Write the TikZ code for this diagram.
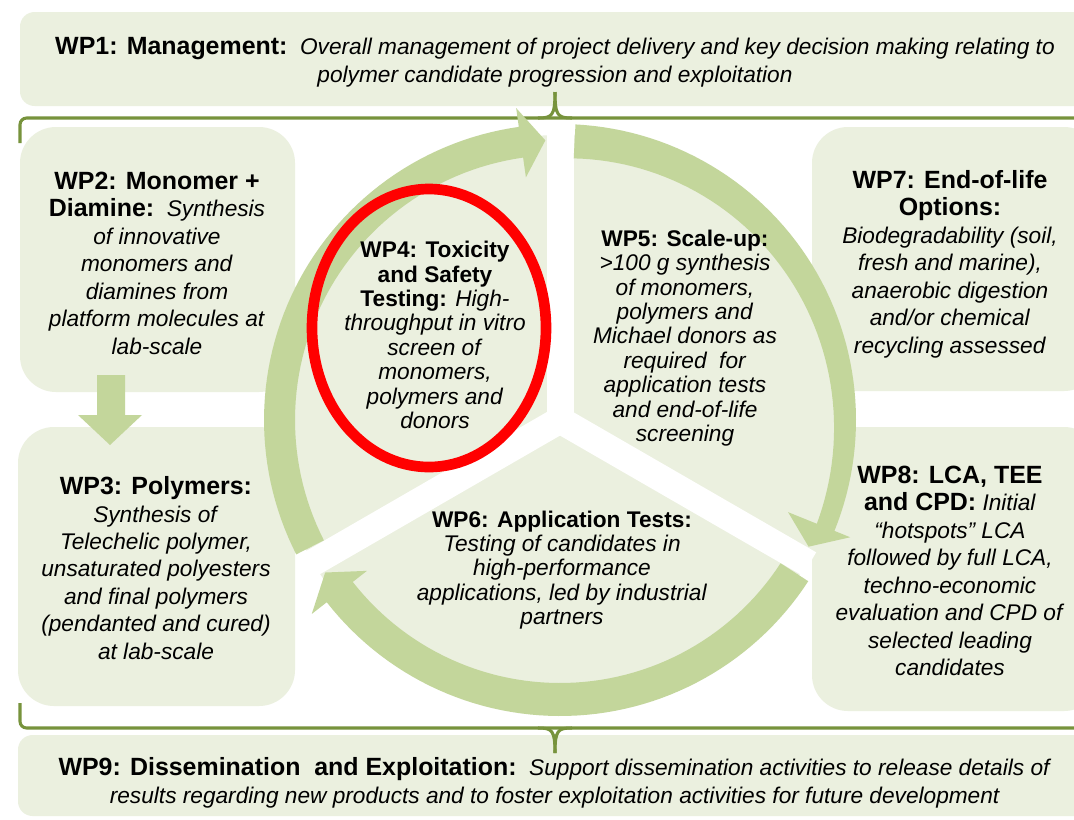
\documentclass[tikz,border=0pt]{standalone}
\usepackage{fontspec}
\setmainfont{Liberation Sans}
\definecolor{boxfill}{HTML}{EBF0DF}
\definecolor{ringgreen}{HTML}{C3D69B}
\definecolor{bracegreen}{HTML}{77933C}
\definecolor{markred}{HTML}{FF0000}
% larger bold headings used in the outer panels
\newcommand\wphead[1]{{\fontsize{18.7}{20}\selectfont\bfseries #1}}
\begin{document}
\begin{tikzpicture}[x=0.75pt, y=-0.75pt,
  panel/.style={fill=boxfill},
  ringarrow/.style={fill=ringgreen},
  bracketline/.style={draw=bracegreen, line width=2.3pt},
  gapband/.style={draw=white, line width=20.25pt},
  sidetxt/.style={align=center, inner sep=0pt, font=\fontsize{17}{20.6}\selectfont},
  midtxt/.style={align=center, inner sep=0pt, font=\fontsize{17}{18.3}\selectfont},
  wptxt/.style={align=center, inner sep=0pt, font=\fontsize{17}{21}\selectfont}]

\fill[white] (0,0) rectangle (1074,819);
\useasboundingbox (0,0) rectangle (1074,819);

% header and footer panels
\fill[panel, rounded corners=11pt] (20,12) rectangle (1095,106);
\fill[panel, rounded corners=11pt] (18,735) rectangle (1095,816);

% side panels
\fill[panel, rounded corners=27pt] (20,127) rectangle (295,392);
\fill[panel, rounded corners=27pt] (18,427) rectangle (295,706);
\fill[panel, rounded corners=27pt] (812,127) rectangle (1100,391);
\fill[panel, rounded corners=27pt] (812,427) rectangle (1100,711);

% brackets linking WP1 and WP9 to the work packages
\draw[bracketline, rounded corners=5pt] (20,143) -- (20,118) -- (1090,118);
\draw[bracketline] (538,118) .. controls (552,118) and (555,116) .. (555,92);
\draw[bracketline] (572,118) .. controls (558,118) and (555,116) .. (555,92);
\draw[bracketline, rounded corners=5pt] (20,703) -- (20,728) -- (1090,728);
\draw[bracketline] (538,728) .. controls (552,728) and (555,730) .. (555,753);
\draw[bracketline] (572,728) .. controls (558,728) and (555,730) .. (555,753);

% WP2 -> WP3 block arrow
\fill[ringgreen] (97,375) -- (125,375) -- (125,415) -- (142,415) -- (110,445)
  -- (78,415) -- (97,415) -- cycle;

% central cycle: three segments separated by white bands
\def\cx{560}\def\cy{420}
\coordinate (c) at (\cx,\cy);
\coordinate (gtop) at (560,132);
\coordinate (gleft) at (310.6,564);
\coordinate (gright) at (809.4,564);
\fill[panel] (c) circle[radius=285];
\draw[gapband] (c) -- (gtop);
\draw[gapband] (c) -- (gleft);
\draw[gapband] (c) -- (gright);

% curved arrow WP3 side -> top
\fill[ringarrow] plot[domain=207:98, samples=60] ({\cx+296*cos(\x)},{\cy-296*sin(\x)})
  -- ({\cx+315*cos(98)},{\cy-315*sin(98)})
  -- ({\cx+280*cos(93)},{\cy-280*sin(93)})
  -- ({\cx+245*cos(98)},{\cy-245*sin(98)})
  -- plot[domain=98:207, samples=60] ({\cx+265*cos(\x)},{\cy-265*sin(\x)})
  -- cycle;
% curved arrow top -> WP8 side (narrowing towards the head)
\fill[ringarrow] plot[domain=87:-22, samples=60] ({\cx+296*cos(\x)},{\cy-296*sin(\x)})
  -- ({\cx+313*cos(-22)},{\cy-313*sin(-22)})
  -- ({\cx+279*cos(-27)},{\cy-279*sin(-27)})
  -- ({\cx+246*cos(-22)},{\cy-246*sin(-22)})
  -- plot[domain=-22:87, samples=60] ({\cx+(262+15*(87-\x)/109)*cos(\x)},{\cy-(262+15*(87-\x)/109)*sin(\x)})
  -- cycle;
% curved arrow bottom right -> WP3 side
\fill[ringarrow] plot[domain=-33:-142, samples=60] ({\cx+296*cos(\x)},{\cy-296*sin(\x)})
  -- ({\cx+315*cos(-142)},{\cy-315*sin(-142)})
  -- ({\cx+280*cos(-147)},{\cy-280*sin(-147)})
  -- ({\cx+245*cos(-142)},{\cy-245*sin(-142)})
  -- plot[domain=-142:-33, samples=60] ({\cx+263*cos(\x)},{\cy-263*sin(\x)})
  -- cycle;

% texts
\node[wptxt] (wp1) at (555,62) {\wphead{WP1: Management:}\ \ \textit{Overall management of project delivery and key decision making relating to}\\
  \textit{polymer candidate progression and exploitation}};

\node[sidetxt] (wp2) at (157,263) {\wphead{WP2: Monomer +}\\
  \wphead{Diamine:}\ \ \textit{Synthesis}\\
  \textit{of innovative}\\
  \textit{monomers and}\\
  \textit{diamines from}\\
  \textit{platform molecules at}\\
  \textit{lab-scale}};

\node[sidetxt] (wp3) at (156,568) {\wphead{WP3: Polymers:}\\
  \textit{Synthesis of}\\
  \textit{Telechelic polymer,}\\
  \textit{unsaturated polyesters}\\
  \textit{and final polymers}\\
  \textit{(pendanted and cured)}\\
  \textit{at lab-scale}};

\node[midtxt] (wp4) at (435,335) {\textbf{WP4: Toxicity}\\
  \textbf{and Safety}\\
  \textbf{Testing:} \textit{High-}\\
  \textit{throughput in vitro}\\
  \textit{screen of}\\
  \textit{monomers,}\\
  \textit{polymers and}\\
  \textit{donors}};

\node[midtxt] (wp5) at (685,338) {\textbf{WP5: Scale-up:}\\
  \textit{>100 g synthesis}\\
  \textit{of monomers,}\\
  \textit{polymers and}\\
  \textit{Michael donors as}\\
  \textit{required\ \ for}\\
  \textit{application tests}\\
  \textit{and end-of-life}\\
  \textit{screening}};

\node[midtxt] (wp6) at (562,570) {\textbf{WP6: Application Tests:}\\
  \textit{Testing of candidates in}\\
  \textit{high-performance}\\
  \textit{applications, led by industrial}\\
  \textit{partners}};

\node[sidetxt] (wp7) at (950,264) {\wphead{WP7: End-of-life}\\
  \wphead{Options:}\\
  \textit{Biodegradability (soil,}\\
  \textit{fresh and marine),}\\
  \textit{anaerobic digestion}\\
  \textit{and/or chemical}\\
  \textit{recycling assessed}};

\node[sidetxt] (wp8) at (950,571) {\wphead{WP8: LCA, TEE}\\
  \wphead{and CPD:} \textit{Initial}\\
  \textit{“hotspots” LCA}\\
  \textit{followed by full LCA,}\\
  \textit{techno-economic}\\
  \textit{evaluation and CPD of}\\
  \textit{selected leading}\\
  \textit{candidates}};

\node[wptxt] (wp9) at (555,783) {\wphead{WP9: Dissemination\ \ and Exploitation:}\ \ \textit{Support dissemination activities to release details of}\\
  \textit{results regarding new products and to foster exploitation activities for future development}};

% red highlight around WP4
\draw[markred, line width=8pt] (429,328) ellipse [x radius=117, y radius=139];

\end{tikzpicture}
\end{document}
